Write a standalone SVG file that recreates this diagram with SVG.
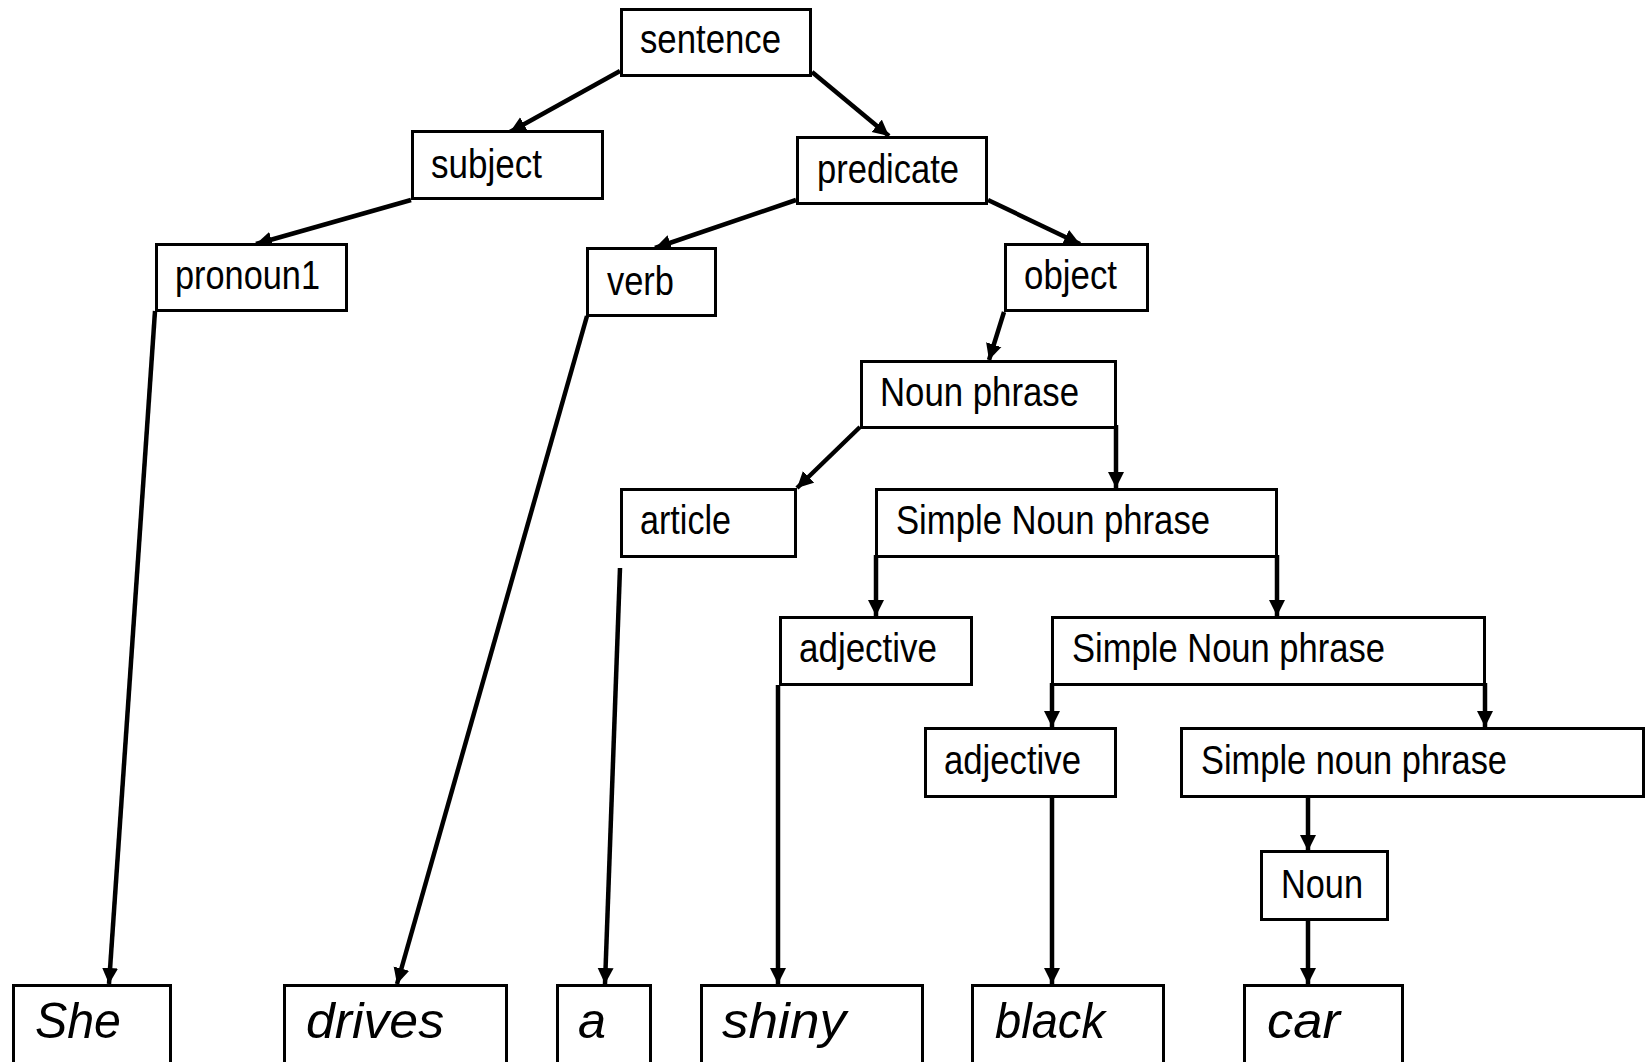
<svg xmlns="http://www.w3.org/2000/svg" width="1650" height="1062" viewBox="0 0 1650 1062">
<style>
.box{fill:#fff;stroke:#000;stroke-width:3}
.lbl{font-family:"Liberation Sans",Arial,sans-serif;font-size:41px;fill:#000}
.word{font-family:"Liberation Sans",Arial,sans-serif;font-size:50px;font-style:italic;fill:#000}
.conn{stroke:#000;stroke-width:4.5;fill:none;marker-end:url(#ah)}
</style>
<defs>
<marker id="ah" markerUnits="userSpaceOnUse" markerWidth="17" markerHeight="17" viewBox="0 0 17 17" refX="16" refY="8.5" orient="auto">
<path d="M0,0.5 L16,8.5 L0,16.5 z" fill="#000"/>
</marker>
</defs>
<rect width="1650" height="1062" fill="#fff"/>
<g id="connectors">
<line class="conn" x1="620" y1="71" x2="510" y2="132"/>
<line class="conn" x1="812" y1="72" x2="889" y2="136"/>
<line class="conn" x1="411" y1="200" x2="256" y2="244"/>
<line class="conn" x1="796" y1="200" x2="655" y2="248"/>
<line class="conn" x1="988" y1="200" x2="1080" y2="244"/>
<line class="conn" x1="1004" y1="312" x2="989" y2="360"/>
<line class="conn" x1="860" y1="427" x2="797" y2="488"/>
<line class="conn" x1="1116" y1="425" x2="1116" y2="488"/>
<line class="conn" x1="876" y1="555" x2="876" y2="616"/>
<line class="conn" x1="1277" y1="555" x2="1277" y2="616"/>
<line class="conn" x1="1052" y1="683" x2="1052" y2="727"/>
<line class="conn" x1="1485" y1="683" x2="1485" y2="727"/>
<line class="conn" x1="1308" y1="793" x2="1308" y2="851"/>
<line class="conn" x1="1308" y1="920" x2="1308" y2="984"/>
<line class="conn" x1="1052" y1="793" x2="1052" y2="984"/>
<line class="conn" x1="778" y1="685" x2="778" y2="984"/>
<line class="conn" x1="620" y1="568" x2="605" y2="984"/>
<line class="conn" x1="587" y1="316" x2="397" y2="984"/>
<line class="conn" x1="155" y1="311" x2="109" y2="984"/>
</g>
<g id="n-sentence"><rect class="box" x="621.5" y="9.5" width="189" height="66"/><text class="lbl" x="640" y="53" textLength="141" lengthAdjust="spacingAndGlyphs">sentence</text></g>
<g id="n-subject"><rect class="box" x="412.5" y="131.5" width="190" height="67"/><text class="lbl" x="431" y="178" textLength="111" lengthAdjust="spacingAndGlyphs">subject</text></g>
<g id="n-predicate"><rect class="box" x="797.5" y="137.5" width="189" height="66"/><text class="lbl" x="817" y="183" textLength="142" lengthAdjust="spacingAndGlyphs">predicate</text></g>
<g id="n-pronoun1"><rect class="box" x="156.5" y="244.5" width="190" height="66"/><text class="lbl" x="175" y="289" textLength="145" lengthAdjust="spacingAndGlyphs">pronoun1</text></g>
<g id="n-verb"><rect class="box" x="587.5" y="248.5" width="128" height="67"/><text class="lbl" x="607" y="295" textLength="67" lengthAdjust="spacingAndGlyphs">verb</text></g>
<g id="n-object"><rect class="box" x="1005.5" y="244.5" width="142" height="66"/><text class="lbl" x="1024" y="289" textLength="93" lengthAdjust="spacingAndGlyphs">object</text></g>
<g id="n-nounphrase"><rect class="box" x="861.5" y="361.5" width="254" height="66"/><text class="lbl" x="880" y="406" textLength="199" lengthAdjust="spacingAndGlyphs">Noun phrase</text></g>
<g id="n-article"><rect class="box" x="621.5" y="489.5" width="174" height="67"/><text class="lbl" x="640" y="534" textLength="91" lengthAdjust="spacingAndGlyphs">article</text></g>
<g id="n-snp1"><rect class="box" x="876.5" y="489.5" width="400" height="67"/><text class="lbl" x="896" y="534" textLength="314" lengthAdjust="spacingAndGlyphs">Simple Noun phrase</text></g>
<g id="n-adjective1"><rect class="box" x="780.5" y="617.5" width="191" height="67"/><text class="lbl" x="799" y="662" textLength="138" lengthAdjust="spacingAndGlyphs">adjective</text></g>
<g id="n-snp2"><rect class="box" x="1052.5" y="617.5" width="432" height="67"/><text class="lbl" x="1072" y="662" textLength="313" lengthAdjust="spacingAndGlyphs">Simple Noun phrase</text></g>
<g id="n-adjective2"><rect class="box" x="925.5" y="728.5" width="190" height="68"/><text class="lbl" x="944" y="774" textLength="137" lengthAdjust="spacingAndGlyphs">adjective</text></g>
<g id="n-snp3"><rect class="box" x="1181.5" y="728.5" width="462" height="68"/><text class="lbl" x="1201" y="774" textLength="306" lengthAdjust="spacingAndGlyphs">Simple noun phrase</text></g>
<g id="n-noun"><rect class="box" x="1261.5" y="851.5" width="126" height="68"/><text class="lbl" x="1281" y="898" textLength="82" lengthAdjust="spacingAndGlyphs">Noun</text></g>
<g id="w-she"><rect class="box" x="13.5" y="985.5" width="157" height="90"/><text class="word" x="35" y="1038" textLength="86" lengthAdjust="spacingAndGlyphs">She</text></g>
<g id="w-drives"><rect class="box" x="284.5" y="985.5" width="222" height="90"/><text class="word" x="306" y="1038" textLength="138" lengthAdjust="spacingAndGlyphs">drives</text></g>
<g id="w-a"><rect class="box" x="557.5" y="985.5" width="93" height="90"/><text class="word" x="578" y="1038" textLength="28" lengthAdjust="spacingAndGlyphs">a</text></g>
<g id="w-shiny"><rect class="box" x="701.5" y="985.5" width="221" height="90"/><text class="word" x="722" y="1038" textLength="124" lengthAdjust="spacingAndGlyphs">shiny</text></g>
<g id="w-black"><rect class="box" x="972.5" y="985.5" width="191" height="90"/><text class="word" x="995" y="1038" textLength="110" lengthAdjust="spacingAndGlyphs">black</text></g>
<g id="w-car"><rect class="box" x="1244.5" y="985.5" width="158" height="90"/><text class="word" x="1267" y="1038" textLength="73" lengthAdjust="spacingAndGlyphs">car</text></g>
</svg>
